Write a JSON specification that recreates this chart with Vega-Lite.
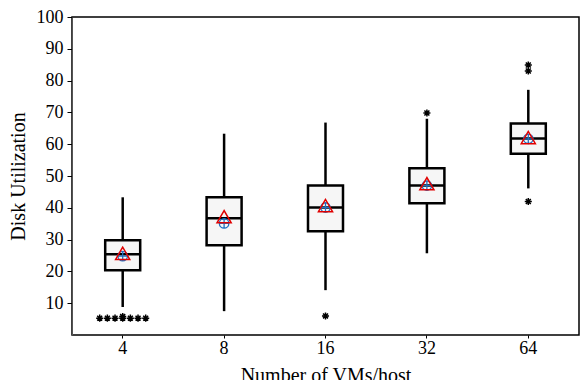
{
  "$schema": "https://vega.github.io/schema/vega-lite/v6.json",
  "autosize": {"type": "none"},
  "width": 507,
  "height": 318,
  "padding": {"left": 72, "top": 17, "right": 1, "bottom": 45},
  "background": "white",
  "config": {
    "font": "Liberation Serif",
    "view": {"stroke": "#000", "strokeWidth": 1.5},
    "axis": {
      "labelFont": "Liberation Serif",
      "labelFontSize": 18,
      "labelColor": "#000",
      "labelOverlap": false,
      "titleFont": "Liberation Serif",
      "titleFontSize": 20,
      "titleFontWeight": "normal",
      "titleColor": "#000",
      "grid": false,
      "tickColor": "#000",
      "domainColor": "#000"
    }
  },
  "resolve": {"axis": {"y": "independent"}, "scale": {"y": "shared"}},
  "datasets": {
    "boxes": [
      {"vms": "4", "lower": 8.8, "q1": 20.4, "median": 25.4, "q3": 29.8, "upper": 43.3, "mean": 25.7, "center": 24.8},
      {"vms": "8", "lower": 7.5, "q1": 28.2, "median": 36.7, "q3": 43.3, "upper": 63.3, "mean": 37.2, "center": 35.1},
      {"vms": "16", "lower": 14.1, "q1": 32.6, "median": 40.1, "q3": 47.0, "upper": 66.8, "mean": 40.7, "center": 40.1},
      {"vms": "32", "lower": 25.7, "q1": 41.4, "median": 47.0, "q3": 52.4, "upper": 68.0, "mean": 47.6, "center": 47.0},
      {"vms": "64", "lower": 46.1, "q1": 57.0, "median": 61.8, "q3": 66.5, "upper": 77.1, "mean": 62.1, "center": 61.7}
    ],
    "outliers": [
      {"vms": "4", "value": 5.3, "k": -3},
      {"vms": "4", "value": 5.3, "k": -2},
      {"vms": "4", "value": 5.3, "k": -1},
      {"vms": "4", "value": 5.3, "k": 0},
      {"vms": "4", "value": 5.8, "k": 0},
      {"vms": "4", "value": 5.3, "k": 1},
      {"vms": "4", "value": 5.3, "k": 2},
      {"vms": "4", "value": 5.3, "k": 3},
      {"vms": "16", "value": 6.0, "k": 0},
      {"vms": "32", "value": 69.8, "k": 0},
      {"vms": "64", "value": 84.9, "k": 0},
      {"vms": "64", "value": 83.0, "k": 0},
      {"vms": "64", "value": 42.0, "k": 0}
    ]
  },
  "encoding": {
    "x": {
      "field": "vms",
      "type": "ordinal",
      "sort": ["4", "8", "16", "32", "64"],
      "scale": {"paddingInner": 0, "paddingOuter": 0},
      "axis": {"title": "Number of VMs/host", "labelAngle": 0, "labelFont": "Liberation Serif", "labelFontSize": 18, "tickSize": 3, "labelPadding": 1, "titlePadding": 8, "domain": false}
    }
  },
  "layer": [
    {
      "data": {"name": "boxes"},
      "mark": {"type": "rule", "color": "#000", "strokeWidth": 2.5},
      "encoding": {
        "y": {
          "field": "lower",
          "type": "quantitative",
          "scale": {"domain": [0, 100], "nice": false, "zero": false},
          "axis": {"title": "Disk Utilization", "values": [10, 20, 30, 40, 50, 60, 70, 80, 90, 100], "labelOverlap": false, "labelFont": "Liberation Serif", "labelFontSize": 18, "tickSize": 5, "labelPadding": 4, "domainColor": "#555", "titlePadding": 8}
        },
        "y2": {"field": "upper"}
      }
    },
    {
      "data": {"name": "boxes"},
      "mark": {"type": "bar", "size": 35, "fill": "#f6f6f6", "stroke": "#000", "strokeWidth": 2.5},
      "encoding": {
        "y": {"field": "q1", "type": "quantitative", "axis": null},
        "y2": {"field": "q3"}
      }
    },
    {
      "data": {"name": "boxes"},
      "mark": {"type": "tick", "color": "#000", "size": 35, "thickness": 2.5, "opacity": 1},
      "encoding": {
        "y": {"field": "median", "type": "quantitative", "axis": null}
      }
    },
    {
      "data": {"name": "boxes"},
      "mark": {"type": "point", "shape": "M-1,0A1,1 0 1,1 1,0A1,1 0 1,1 -1,0M-1,0L1,0M0,-1L0,1", "filled": false, "stroke": "#1f6fc0", "strokeWidth": 1.3, "size": 90, "opacity": 1},
      "encoding": {
        "y": {"field": "center", "type": "quantitative", "axis": null}
      }
    },
    {
      "data": {"name": "boxes"},
      "mark": {"type": "point", "shape": "triangle-up", "filled": false, "stroke": "#e00000", "strokeWidth": 1.5, "size": 200, "opacity": 1},
      "encoding": {
        "y": {"field": "mean", "type": "quantitative", "axis": null}
      }
    },
    {
      "data": {"name": "outliers"},
      "mark": {"type": "point", "shape": "M-1,0L1,0M0,-1L0,1M-0.7,-0.7L0.7,0.7M-0.7,0.7L0.7,-0.7", "filled": false, "stroke": "#000", "strokeWidth": 1.5, "size": 50, "opacity": 1},
      "encoding": {
        "y": {"field": "value", "type": "quantitative", "axis": null},
        "xOffset": {"field": "k", "type": "quantitative", "scale": {"domain": [-3, 3], "range": [27.7, 73.7]}}
      }
    }
  ]
}
